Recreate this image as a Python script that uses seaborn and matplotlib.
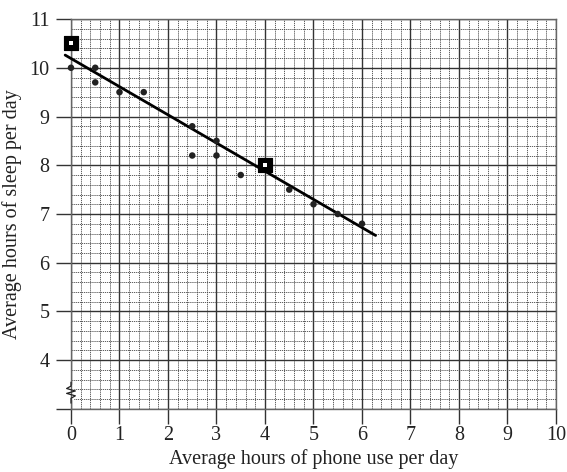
import numpy as np
import matplotlib.pyplot as plt
import pandas as pd
import seaborn as sns

# data
phone_hours = [0, 0.5, 0.5, 1, 1.5, 2.5, 2.5, 3, 3, 3.5, 4.5, 5, 5.5, 6]
sleep_hours = [10, 10, 9.7, 9.5, 9.5, 8.8, 8.2, 8.5, 8.2, 7.8, 7.5, 7.2, 7.0, 6.8]

# the two boxed points
box_x = [0, 4]
box_y = [10.5, 8]

# line of best fit end points
fit_x = [-0.12, 6.28]
fit_y = [10.26, 6.56]

x_ticks = list(range(0, 11))
y_ticks = list(range(3, 12))
y_labels = [''] + [str(v) for v in range(4, 12)]

sns.set_style("white")
plt.rcParams['font.family'] = ['Liberation Serif', 'DejaVu Serif']

df = pd.DataFrame({'phone': phone_hours, 'sleep': sleep_hours})
boxes = pd.DataFrame({'phone': box_x, 'sleep': box_y})
fit = pd.DataFrame({'phone': fit_x, 'sleep': fit_y})

fig = plt.figure(figsize=(5.67, 4.72), dpi=100)
ax = fig.add_axes([0.1252, 0.1335, 0.8554, 0.8262])

ax.set_xlim(0, 10)
ax.set_ylim(3, 11)

# graph paper grid
ax.set_xticks(np.arange(0, 10.01, 0.2), minor=True)
ax.set_yticks(np.arange(3, 11.01, 0.2), minor=True)
ax.set_xticks(x_ticks)
ax.set_yticks(y_ticks)
ax.set_yticklabels(y_labels)
ax.grid(which='minor', color='#444444', linestyle=(0, (1.5, 1)), linewidth=0.6)
ax.grid(which='major', color='#333333', linestyle='-', linewidth=1.0)
ax.set_axisbelow(True)

ax.tick_params(which='major', bottom=True, left=True, direction='out', length=11, width=1.0,
               color='#333333', labelsize=14.5, labelcolor='#222222')
ax.tick_params(axis='x', which='major', pad=1)
ax.tick_params(axis='y', which='major', pad=4.5)
ax.tick_params(which='minor', length=0)
for s in ax.spines.values():
    s.set_color('#666666')
    s.set_linewidth(1.0)

sns.lineplot(data=fit, x='phone', y='sleep', color='black', linewidth=2, ax=ax,
             clip_on=False, zorder=3)
sns.scatterplot(data=df, x='phone', y='sleep', color='#222222', s=22, edgecolor='none',
                ax=ax, zorder=4, clip_on=False)
sns.scatterplot(data=boxes, x='phone', y='sleep', marker='s', s=110, color='black',
                edgecolor='black', ax=ax, zorder=5, clip_on=False)
sns.scatterplot(data=boxes, x='phone', y='sleep', marker='s', s=8, color='white',
                edgecolor='none', ax=ax, zorder=6, clip_on=False)

# axis break zigzag on the y axis
zx = [0, 0, 0.09, -0.09, 0.09, -0.09, 0, 0]
zy = [3.12, 3.22, 3.27, 3.32, 3.37, 3.42, 3.47, 3.55]
ax.fill_betweenx([3.2, 3.49], -0.05, 0.05, color='white', zorder=2, clip_on=False)
ax.plot(zx, zy, color='#222222', linewidth=0.9, zorder=3, clip_on=False)

ax.set_xlabel('Average hours of phone use per day', fontsize=14.5, color='#222222', labelpad=3)
ax.set_ylabel('Average hours of sleep per day', fontsize=14.5, color='#222222', labelpad=5)

fig.savefig('out.png', dpi=100)
